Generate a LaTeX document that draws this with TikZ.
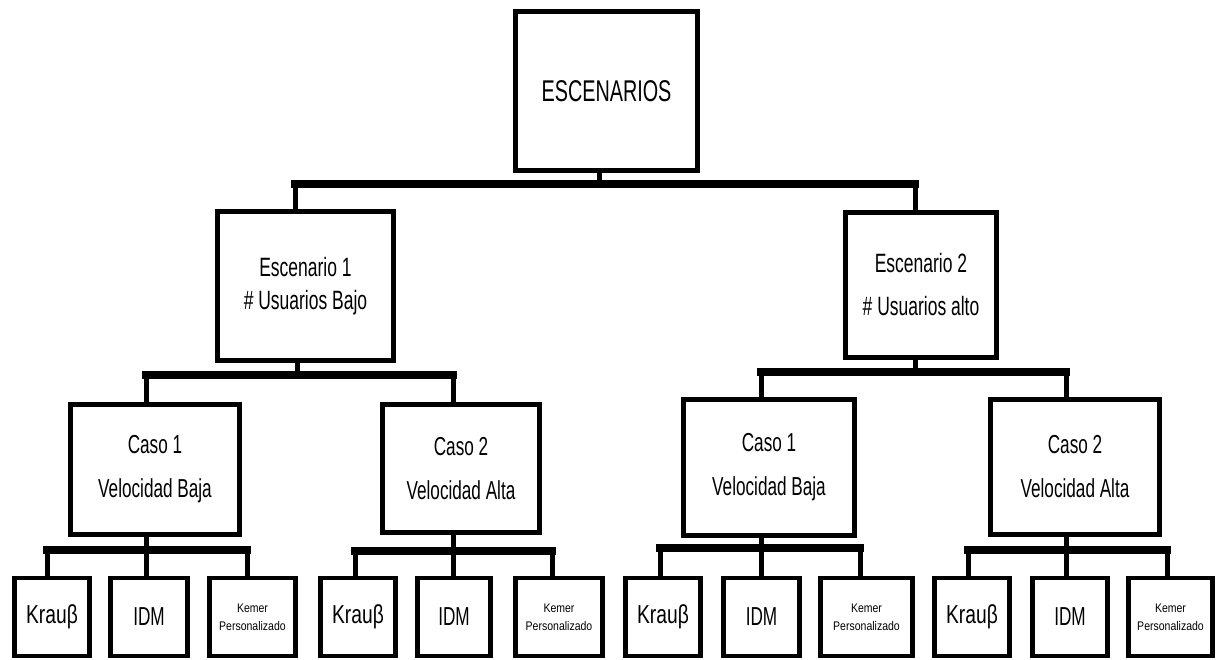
\documentclass[tikz,border=0pt]{standalone}
\usepackage{fontspec}
\newfontfamily\nf{Liberation Sans}[FakeStretch=0.66]
\newfontfamily\knf{Liberation Sans}[FakeStretch=0.74]
\newfontfamily\smallnf{Liberation Sans}[FakeStretch=0.84]
\begin{document}
\begin{tikzpicture}[x=1pt,y=-1pt,
  box/.style={draw=black,line width=4.5pt,fill=white,rectangle,inner sep=0pt,align=center,font=\nf},
  bar/.style={line width=8.5pt,line cap=rect},
  stem/.style={line width=5pt},
  lf/.style={box,minimum width=#1,minimum height=78pt,font=\nf\fontsize{26}{30}\selectfont},
  kf/.style={box,minimum width=#1,minimum height=78pt,font=\knf\fontsize{26}{30}\selectfont},
  sm/.style={box,minimum width=#1,minimum height=78pt,font=\smallnf\fontsize{12.5}{18}\selectfont}]
\useasboundingbox (0,0) rectangle (1217,660);
\fill[white] (0,0) rectangle (1217,660);

% root
\node[box,minimum width=182pt,minimum height=159pt,font=\nf\fontsize{30}{34}\selectfont] (root) at (606.5,91) {ESCENARIOS};

% level 1
\node[box,minimum width=176pt,minimum height=149pt,font=\nf\fontsize{26.5}{33}\selectfont] (e1) at (305.5,286) {Escenario 1\\\# Usuarios Bajo};
\node[box,minimum width=151pt,minimum height=145pt,font=\nf\fontsize{26.5}{43}\selectfont] (e2) at (921,285) {Escenario 2\\\# Usuarios alto};

% level 2
\node[box,minimum width=169pt,minimum height=130pt,font=\nf\fontsize{26}{44}\selectfont] (c11) at (155,469.5) {Caso 1\\Velocidad Baja};
\node[box,minimum width=157pt,minimum height=128pt,font=\nf\fontsize{26}{44}\selectfont] (c12) at (461,468.5) {Caso 2\\Velocidad Alta};
\node[box,minimum width=171pt,minimum height=136pt,font=\nf\fontsize{26}{44}\selectfont] (c21) at (769,467.5) {Caso 1\\Velocidad Baja};
\node[box,minimum width=169pt,minimum height=135pt,font=\nf\fontsize{26}{44}\selectfont] (c22) at (1075,467) {Caso 2\\Velocidad Alta};

% level 3
\node[kf=75pt] (k11) at (52,617) {Krauβ};
\node[lf=77pt] (i11) at (149,617) {IDM};
\node[sm=86pt] (p11) at (252.5,617) {Kemer\\Personalizado};

\node[kf=75pt] (k12) at (358,617) {Krauβ};
\node[lf=73pt] (i12) at (454,617) {IDM};
\node[sm=87pt] (p12) at (559,617) {Kemer\\Personalizado};

\node[kf=75pt] (k21) at (663,617) {Krauβ};
\node[lf=76pt] (i21) at (761.5,617) {IDM};
\node[sm=92pt] (p21) at (866.5,617) {Kemer\\Personalizado};

\node[kf=75pt] (k22) at (972,617) {Krauβ};
\node[lf=75pt] (i22) at (1070,617) {IDM};
\node[sm=84pt] (p22) at (1170.5,617) {Kemer\\Personalizado};

% connectors: root
\coordinate (b0) at (599,184);
\draw[stem] ([xshift=-7.5pt]root.south) -- (b0);
\draw[bar] (295,184) coordinate (b0l) -- (915,184) coordinate (b0r);
\draw[stem] (b0l) -- (b0l |- e1.north);
\draw[stem] (b0r) -- (b0r |- e2.north);

% e1
\draw[stem] ([xshift=-8.5pt]e1.south) -- ++(0,12);
\draw[bar] (146,375) coordinate (b1l) -- (453,375) coordinate (b1r);
\draw[stem] (b1l) -- ([xshift=-9pt]c11.north);
\draw[stem] (b1r) -- ([xshift=-8pt]c12.north);

% e2
\draw[stem] ([xshift=-6pt]e2.south) -- ++(0,12);
\draw[bar] (761,372) coordinate (b2l) -- (1066,372) coordinate (b2r);
\draw[stem] (b2l) -- ([xshift=-8pt]c21.north);
\draw[stem] (b2r) -- ([xshift=-9pt]c22.north);

% c11
\draw[stem] ([xshift=-9pt]c11.south) -- ++(0,13);
\draw[bar] (47,550) coordinate (l11) -- (247,550) coordinate (r11);
\coordinate (m11) at (146,550);
\draw[stem] (l11) -- (l11 |- k11.north);
\draw[stem] (m11) -- (m11 |- i11.north);
\draw[stem] (r11) -- (r11 |- p11.north);

% c12
\draw[stem] ([xshift=-8pt]c12.south) -- ++(0,16);
\draw[bar] (355,551) coordinate (l12) -- (552,551) coordinate (r12);
\coordinate (m12) at (453,551);
\draw[stem] (l12) -- (l12 |- k12.north);
\draw[stem] (m12) -- (m12 |- i12.north);
\draw[stem] (r12) -- (r12 |- p12.north);

% c21
\draw[stem] ([xshift=-8pt]c21.south) -- ++(0,10);
\draw[bar] (660,548) coordinate (l21) -- (860,548) coordinate (r21);
\coordinate (m21) at (761,548);
\draw[stem] (l21) -- (l21 |- k21.north);
\draw[stem] (m21) -- (m21 |- i21.north);
\draw[stem] (r21) -- (r21 |- p21.north);

% c22
\draw[stem] ([xshift=-9pt]c22.south) -- ++(0,13);
\draw[bar] (968,550) coordinate (l22) -- (1167,550) coordinate (r22);
\coordinate (m22) at (1066,550);
\draw[stem] (l22) -- (l22 |- k22.north);
\draw[stem] (m22) -- (m22 |- i22.north);
\draw[stem] (r22) -- (r22 |- p22.north);
\end{tikzpicture}
\end{document}
